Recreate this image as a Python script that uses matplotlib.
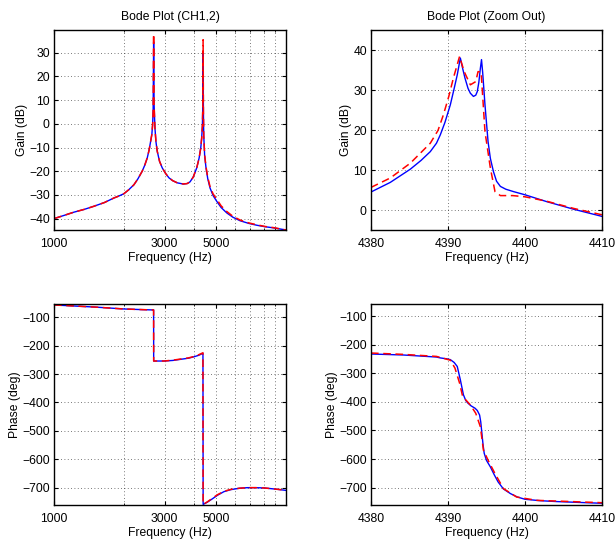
import numpy as np
import matplotlib
matplotlib.use('Agg')
import matplotlib.pyplot as plt

plt.rcParams['font.family'] = ['Liberation Sans', 'DejaVu Sans']
plt.rcParams['font.size'] = 8.7
plt.rcParams['axes.linewidth'] = 1.0
plt.rcParams['xtick.direction'] = 'in'
plt.rcParams['ytick.direction'] = 'in'
plt.rcParams['xtick.major.size'] = 3
plt.rcParams['ytick.major.size'] = 3
plt.rcParams['xtick.minor.size'] = 1.5
plt.rcParams['xtick.major.pad'] = 6
plt.rcParams['ytick.major.pad'] = 3

# wide band gain (log frequency axis)
wide_freq = [1000, 1100, 1216, 1350, 1484, 1650, 1811, 1900, 2000, 2100, 2210, 2300, 2399,
             2460, 2522, 2570, 2609, 2640, 2661, 2675, 2688, 2700, 2723, 2750, 2786, 2850,
             2928, 3030, 3130, 3250, 3400, 3607, 3750, 3856, 3980, 4122, 4220, 4290, 4330,
             4360, 4380, 4392, 4405, 4420, 4460, 4521, 4600, 4705, 4850, 5029, 5250, 5556,
             5900, 6342, 6900, 7486, 8100, 8831, 10000]
wide_gain_blue = [-40.0, -38.7, -37.3, -36.1, -34.8, -33.2, -31.3, -30.5, -29.5, -27.8, -25.7, -23.2, -20.0,
                  -17.5, -14.4, -11.0, -7.4, -4.5, -0.4, 6.0, 34.6, 8.0, -1.8, -7.5, -11.6, -15.8,
                  -18.6, -21.0, -22.8, -24.0, -24.9, -25.4, -25.2, -24.5, -22.5, -18.6, -14.5, -10.2, -6.0,
                  -1.0, 8.0, 30.4, 5.0, -5.0, -13.5, -18.6, -23.2, -27.1, -30.3, -32.7, -35.3, -37.6,
                  -39.4, -40.9, -42.0, -42.8, -43.4, -43.9, -44.8]
wide_gain_red = [-40.0, -38.7, -37.3, -36.1, -34.8, -33.2, -31.3, -30.5, -29.5, -27.8, -25.7, -23.2, -20.0,
                 -17.5, -14.4, -11.0, -7.4, -4.5, -0.4, 6.0, 37.9, 8.0, -1.8, -7.5, -11.6, -15.8,
                 -18.6, -21.0, -22.8, -24.0, -24.9, -25.4, -25.2, -24.5, -22.5, -18.6, -14.5, -10.2, -6.0,
                 -1.0, 8.0, 35.5, 5.0, -5.0, -13.2, -18.2, -22.6, -26.5, -29.6, -31.8, -34.6, -37.0,
                 -39.0, -40.6, -41.8, -42.6, -43.3, -43.8, -44.8]

# wide band phase
wide_pfreq = [1000, 1500, 2000, 2400, 2687, 2689, 2978, 3250, 3516, 3800, 4014, 4200, 4385,
              4393, 4581, 4800, 5059, 5400, 5780, 6300, 6820, 7400, 8050, 9000, 10000]
wide_phase_blue = [-56.6, -64, -70.7, -73, -74.2, -254, -254, -252, -248, -244, -239, -234, -227,
                   -759, -751, -740, -727, -714, -707, -702, -700, -700, -701, -705, -709.6]
wide_phase_red = [-56.6, -64, -70.7, -73, -74.2, -254, -254, -251, -247, -243, -238, -232, -225,
                  -759, -750, -738, -725, -713, -706, -702, -700, -700, -701, -705, -709]

# zoomed gain around second resonance
zoom_freq_blue = [4380, 4382.5, 4385.1, 4386.5, 4387.7, 4388.5, 4389.0, 4389.6, 4390.3, 4390.8,
                  4391.2, 4391.6, 4391.9, 4392.2, 4392.6, 4392.9, 4393.3, 4393.6, 4393.8, 4394.0,
                  4394.2, 4394.35, 4394.5, 4394.8, 4395.2, 4395.5, 4395.9, 4396.3, 4396.8, 4397.5,
                  4398.5, 4400, 4402.8, 4406.3, 4410]
zoom_gain_blue = [4.6, 7.0, 10.3, 12.5, 14.7, 16.8, 18.9, 22.0, 26.4, 30.5,
                  33.9, 38.1, 35.5, 33.1, 30.5, 29.3, 28.5, 28.8, 29.7, 32.0,
                  35.5, 37.7, 34.5, 26.4, 17.2, 13.0, 9.7, 7.3, 6.0, 5.3,
                  4.7, 3.9, 2.2, 0.3, -1.5]
zoom_freq_red = [4380, 4382.5, 4385.1, 4387.7, 4388.7, 4389.4, 4390.1, 4390.7, 4391.5, 4392.1,
                 4392.9, 4393.6, 4393.9, 4394.3, 4394.8, 4395.5, 4396.1, 4396.8, 4398.4, 4400,
                 4402.8, 4406.3, 4410]
zoom_gain_red = [5.75, 8.1, 11.8, 16.8, 20.0, 23.9, 28.5, 33.1, 38.5, 34.7,
                 31.4, 32.2, 34.7, 34.6, 19.7, 10.6, 4.7, 3.7, 3.7, 3.4,
                 2.3, 0.5, -1.1]

# zoomed phase
zoom_pfreq_blue = [4380, 4384.2, 4388.5, 4389.0, 4389.8, 4390.3, 4390.8, 4391.2, 4391.6, 4392.0,
                   4392.3, 4392.6, 4393.0, 4393.5, 4393.8, 4394.1, 4394.25, 4394.4, 4394.55, 4394.7,
                   4395.0, 4395.5, 4396.0, 4396.5, 4397.2, 4398.1, 4399.0, 4400, 4402, 4404.1,
                   4407, 4410]
zoom_phase_blue = [-232.3, -235.8, -242.9, -246, -249, -252, -262, -276, -322.6, -375,
                   -395, -404.7, -414, -422, -430, -445.8, -470, -510, -550, -580,
                   -605, -627.6, -655, -680, -705, -721, -733, -741, -746, -749,
                   -752, -755]
zoom_pfreq_red = [4380, 4384.2, 4388.5, 4390.3, 4390.9, 4391.5, 4391.9, 4392.9, 4393.6, 4394.2,
                  4394.6, 4395.2, 4396.1, 4397.2, 4398.9, 4401.5, 4410]
zoom_phase_red = [-228.9, -233.6, -240.7, -254, -281.6, -334, -381, -410.6, -439.8, -487,
                  -569, -604, -651, -703.6, -733, -744.7, -753]

fig = plt.figure(figsize=(6.16, 5.39), dpi=100)
ax1 = fig.add_axes([0.0877, 0.5733, 0.3766, 0.371])
ax2 = fig.add_axes([0.6023, 0.5733, 0.375, 0.371])
ax3 = fig.add_axes([0.0877, 0.0631, 0.3766, 0.373])
ax4 = fig.add_axes([0.6023, 0.0631, 0.375, 0.373])

grid_kw = dict(color='k', linestyle=(0, (1, 3)), linewidth=0.6, alpha=0.7)


def draw(ax, xb, yb, xr, yr):
    ax.plot(xb, yb, color='b', linewidth=1.0)
    ax.plot(xr, yr, color='r', linewidth=1.1, linestyle=(0, (5, 3)))


def log_axis(ax):
    ax.set_xscale('log')
    ax.set_xlim(1000, 10000)
    ax.set_xticks([1000, 3000, 5000])
    ax.set_xticklabels(['1000', '3000', '5000'])
    ax.set_xticks([2000, 4000, 6000, 7000, 8000, 9000], minor=True)
    ax.xaxis.set_minor_formatter(matplotlib.ticker.NullFormatter())
    ax.grid(True, which='both', **grid_kw)


draw(ax1, wide_freq, wide_gain_blue, wide_freq, wide_gain_red)
log_axis(ax1)
ax1.set_ylim(-44.8, 39.6)
ax1.set_yticks(np.arange(-40, 31, 10))
ax1.set_title('Bode Plot (CH1,2)', fontsize=8.7, pad=7)
ax1.set_xlabel('Frequency (Hz)', labelpad=1)
ax1.set_ylabel('Gain (dB)', labelpad=1)

draw(ax2, zoom_freq_blue, zoom_gain_blue, zoom_freq_red, zoom_gain_red)
ax2.set_xlim(4380, 4410)
ax2.set_xticks([4380, 4390, 4400, 4410])
ax2.set_ylim(-4.9, 45.1)
ax2.set_yticks([0, 10, 20, 30, 40])
ax2.grid(True, **grid_kw)
ax2.set_title('Bode Plot (Zoom Out)', fontsize=8.7, pad=7)
ax2.set_xlabel('Frequency (Hz)', labelpad=1)
ax2.set_ylabel('Gain (dB)', labelpad=1)

draw(ax3, wide_pfreq, wide_phase_blue, wide_pfreq, wide_phase_red)
log_axis(ax3)
ax3.set_ylim(-761, -53)
ax3.set_yticks(np.arange(-700, -99, 100))
ax3.set_xlabel('Frequency (Hz)', labelpad=1)
ax3.set_ylabel('Phase (deg)', labelpad=1)

draw(ax4, zoom_pfreq_blue, zoom_phase_blue, zoom_pfreq_red, zoom_phase_red)
ax4.set_xlim(4380, 4410)
ax4.set_xticks([4380, 4390, 4400, 4410])
ax4.set_ylim(-761, -57)
ax4.set_yticks(np.arange(-700, -99, 100))
ax4.grid(True, **grid_kw)
ax4.set_xlabel('Frequency (Hz)', labelpad=1)
ax4.set_ylabel('Phase (deg)', labelpad=1)

for a in (ax1, ax2, ax3, ax4):
    a.tick_params(which='both', top=True, right=True)

fig.savefig('out.png', dpi=100)
